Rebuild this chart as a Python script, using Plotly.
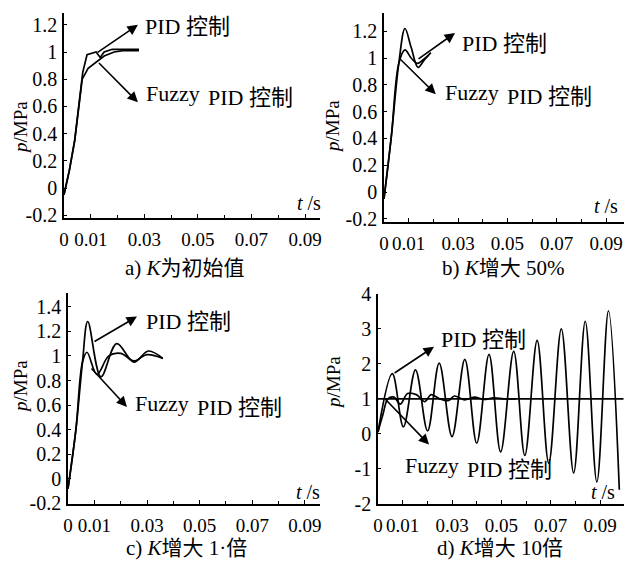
import plotly.graph_objects as go

W, H = 632, 572
OFF = 8  # the page body margin shifts the figure by 8 px; compensate
FONT = "'Liberation Serif', 'Noto Sans CJK SC', serif"

# ---------------- data ----------------
# a) K initial value
ta_pid = [0, 0.002, 0.004, 0.0056, 0.007, 0.0086, 0.0105, 0.012, 0.0135, 0.015, 0.018, 0.022, 0.028]
pid_a = [-0.05, 0.13, 0.35, 0.63, 0.85, 0.98, 0.99, 1.0, 0.96, 1.0, 1.02, 1.02, 1.02]
ta_fz = [0, 0.002, 0.004, 0.0056, 0.0068, 0.009, 0.0124, 0.015, 0.0187, 0.022, 0.028]
fz_a = [-0.05, 0.13, 0.35, 0.62, 0.8, 0.88, 0.93, 0.97, 1.0, 1.01, 1.01]

# b) K +50%
tb_pid = [0, 0.003, 0.006, 0.0085, 0.011, 0.0138, 0.0165, 0.019]
pid_b = [-0.05, 0.42, 0.96, 1.22, 1.08, 0.93, 0.99, 1.04]
tb_fz = [0, 0.003, 0.006, 0.0085, 0.011, 0.0135, 0.016, 0.018]
fz_b = [-0.05, 0.42, 0.96, 1.06, 1.0, 0.96, 0.99, 1.02]

# c) K x2
tc_pid = [0, 0.003, 0.0055, 0.0075, 0.0125, 0.0185, 0.025, 0.0305, 0.036]
pid_c = [-0.08, 0.4, 0.95, 1.28, 0.83, 1.1, 0.95, 1.04, 0.98]
tc_fz = [0, 0.003, 0.0055, 0.0072, 0.011, 0.0155, 0.02, 0.025, 0.03, 0.036]
fz_c = [-0.08, 0.4, 0.95, 1.03, 0.85, 1.0, 1.02, 0.96, 1.01, 0.98]

# d) K x10
td_pid = [0, 0.0058, 0.0103, 0.0152, 0.0201, 0.0248, 0.030, 0.0352, 0.040, 0.045, 0.0497,
          0.055, 0.0595, 0.0645, 0.0692, 0.0743, 0.0793, 0.084, 0.0887, 0.0934, 0.0978]
pid_d = [0.05, 1.72, 0.2, 1.83, 0.08, 2.02, -0.08, 2.13, -0.27, 2.27, -0.52,
         2.36, -0.62, 2.67, -0.84, 3.0, -1.12, 3.22, -1.38, 3.52, -1.6]
td_fz = [0, 0.002, 0.004, 0.0065, 0.009, 0.012, 0.0155, 0.019, 0.0215, 0.025, 0.0285,
         0.031, 0.035, 0.039, 0.043, 0.047, 0.051, 0.056]
fz_d = [0.05, 0.55, 1.0, 1.05, 0.85, 1.15, 1.12, 0.92, 1.12, 1.0, 0.95,
        1.08, 0.97, 1.05, 0.98, 1.03, 1.0, 1.0]
td_ref = [0, 0.0995]
ref_d = [1, 1]

# tick labels
x_tickvals = [0, 0.01, 0.03, 0.05, 0.07, 0.09]
x_ticktext = ["0", "0.01", "0.03", "0.05", "0.07", "0.09"]
y_ab_vals = [-0.2, 0, 0.2, 0.4, 0.6, 0.8, 1.0, 1.2]
y_ab_text = ["-0.2", "0", "0.2", "0.4", "0.6", "0.8", "1", "1.2"]
y_c_vals = [-0.2, 0, 0.2, 0.4, 0.6, 0.8, 1.0, 1.2, 1.4]
y_c_text = ["-0.2", "0", "0.2", "0.4", "0.6", "0.8", "1", "1.2", "1.4"]
y_d_vals = [-2, -1, 0, 1, 2, 3, 4]
y_d_text = ["-2", "-1", "0", "1", "2", "3", "4"]

titles = ["a) <i>K</i>为初始值", "b) <i>K</i>增大 50%", "c) <i>K</i>增大 1·倍", "d) <i>K</i>增大 10倍"]
pid_label = "PID 控制"
fz_word = "Fuzzy"
fz_label = "PID 控制"

# ---------------- layout geometry (target page pixels) ----------------
panels = {
    "a": dict(px=(64, 320, 13, 218), xr=[0, 0.0956], yr=[-0.2206, 1.2868], yv=y_ab_vals, yt=y_ab_text),
    "b": dict(px=(384, 625, 13, 222), xr=[0, 0.0977], yr=[-0.2239, 1.3358], yv=y_ab_vals, yt=y_ab_text),
    "c": dict(px=(68, 320, 293, 504), xr=[0, 0.0957], yr=[-0.205, 1.512], yv=y_c_vals, yt=y_c_text),
    "d": dict(px=(378, 624, 294, 504), xr=[0, 0.0997], yr=[-2.01, 4.0], yv=y_d_vals, yt=y_d_text),
}

def px2paper(x, y):
    return (x - OFF) / W, 1 - (y - OFF) / H

fig = go.Figure()

series = [
    ("a", ta_pid, pid_a, "linear"), ("a", ta_fz, fz_a, "linear"),
    ("b", tb_pid, pid_b, "spline"), ("b", tb_fz, fz_b, "spline"),
    ("c", tc_pid, pid_c, "spline"), ("c", tc_fz, fz_c, "spline"),
    ("d", td_pid, pid_d, "spline"), ("d", td_fz, fz_d, "spline"),
    ("d", td_ref, ref_d, "linear"),
]
axmap = {"a": ("x", "y"), "b": ("x2", "y2"), "c": ("x3", "y3"), "d": ("x4", "y4")}
for p, t, v, shape in series:
    xa, ya = axmap[p]
    fig.add_trace(go.Scatter(x=t, y=v, mode="lines", xaxis=xa, yaxis=ya,
                             line=dict(color="black", width=1.7, shape=shape, smoothing=1.0),
                             showlegend=False, hoverinfo="skip"))

layout = dict(width=W, height=H, margin=dict(l=0, r=0, t=0, b=0, autoexpand=False),
              paper_bgcolor="white", plot_bgcolor="white", template="none",
              font=dict(family=FONT, size=19, color="black"), showlegend=False)

for i, key in enumerate(["a", "b", "c", "d"]):
    P = panels[key]
    l, r, t, b = P["px"]
    x0, y1 = px2paper(l, t)
    x1, y0 = px2paper(r, b)
    sfx = "" if i == 0 else str(i + 1)
    layout["xaxis" + sfx] = dict(domain=[x0, x1], anchor="y" + sfx, range=P["xr"], automargin=False,
                                 showline=True, linecolor="black", linewidth=1.6,
                                 showgrid=False, zeroline=False,
                                 tickvals=x_tickvals, ticktext=x_ticktext,
                                 ticks="inside", ticklen=4, tickcolor="black", tickwidth=1,
                                 minor=dict(dtick=0.01, tick0=0, ticks="inside", ticklen=3,
                                            tickcolor="black", showgrid=False),
                                 ticklabelstandoff=3,
                                 tickfont=dict(family=FONT, size=19))
    layout["yaxis" + sfx] = dict(domain=[y0, y1], anchor="x" + sfx, range=P["yr"], automargin=False,
                                 showline=True, linecolor="black", linewidth=1.6,
                                 showgrid=False, zeroline=False,
                                 tickvals=P["yv"], ticktext=P["yt"],
                                 ticks="inside", ticklen=3, tickcolor="black", tickwidth=1,
                                 ticklabelstandoff=1,
                                 tickfont=dict(family=FONT, size=20))

annotations = []

def text_px(x, y, text, size=19, xanchor="center", angle=0):
    px, py = px2paper(x, y)
    annotations.append(dict(x=px, y=py, xref="paper", yref="paper", text=text, showarrow=False,
                            xanchor=xanchor, yanchor="middle", textangle=angle,
                            font=dict(family=FONT, size=size, color="black")))

# panel titles
text_px(185, 268, titles[0], 21)
text_px(503, 268, titles[1], 21)
text_px(186, 548, titles[2], 21)
text_px(500, 548, titles[3], 21)

# y-axis titles
for (x, y) in [(20, 128), (333, 127), (20, 387), (333, 383)]:
    text_px(x, y, "<i>p</i>/MPa", 19, angle=-90)

# t/s labels
for (x, y) in [(309, 203), (606, 206), (308, 492), (603, 492)]:
    text_px(x, y, "<i>t</i> /s", 20)

# arrows and labels in data coordinates
arrow_specs = [
    ("a", (0.012, 0.99), (0.0276, 1.20), (0.0295, 1.19),
          (0.0125, 0.93), (0.0276, 0.63), (0.0299, 0.67)),
    ("b", (0.0134, 0.985), (0.0288, 1.187), (0.0308, 1.11),
          (0.0061, 1.0), (0.0210, 0.73), (0.0239, 0.72)),
    ("c", (0.0095, 1.11), (0.0262, 1.32), (0.0289, 1.28),
          (0.0084, 0.91), (0.0224, 0.585), (0.0247, 0.59)),
    ("d", (0.0061, 1.71), (0.0227, 2.49), (0.0247, 2.69),
          (0.0024, 1.03), (0.0207, -0.31), (0.0101, -1.0)),
]
for key, ptail, phead, ptext, ftail, fhead, ftext in arrow_specs:
    xa, ya = axmap[key]
    xr = panels[key]["xr"]
    l, r, t, b = panels[key]["px"]
    ppx = (r - l) / (xr[1] - xr[0])
    for tail, head in [(ptail, phead), (ftail, fhead)]:
        annotations.append(dict(x=head[0], y=head[1], ax=tail[0], ay=tail[1],
                                xref=xa, yref=ya, axref=xa, ayref=ya, text="",
                                showarrow=True, arrowhead=2, arrowsize=1.3, arrowwidth=1.6,
                                arrowcolor="black"))
    annotations.append(dict(x=ptext[0], y=ptext[1], xref=xa, yref=ya, text=pid_label,
                            showarrow=False, xanchor="left", yanchor="middle",
                            font=dict(family=FONT, size=22, color="black")))
    # "Fuzzy" sits slightly higher than "PID 控制" in the reference
    annotations.append(dict(x=ftext[0], y=ftext[1], xref=xa, yref=ya, text=fz_word,
                            showarrow=False, xanchor="left", yanchor="middle", yshift=3,
                            font=dict(family=FONT, size=22, color="black")))
    annotations.append(dict(x=ftext[0] + 62 / ppx, y=ftext[1], xref=xa, yref=ya, text=fz_label,
                            showarrow=False, xanchor="left", yanchor="middle", yshift=-1,
                            font=dict(family=FONT, size=22, color="black")))

layout["annotations"] = annotations
fig.update_layout(**layout)
fig.write_html("out.html")
